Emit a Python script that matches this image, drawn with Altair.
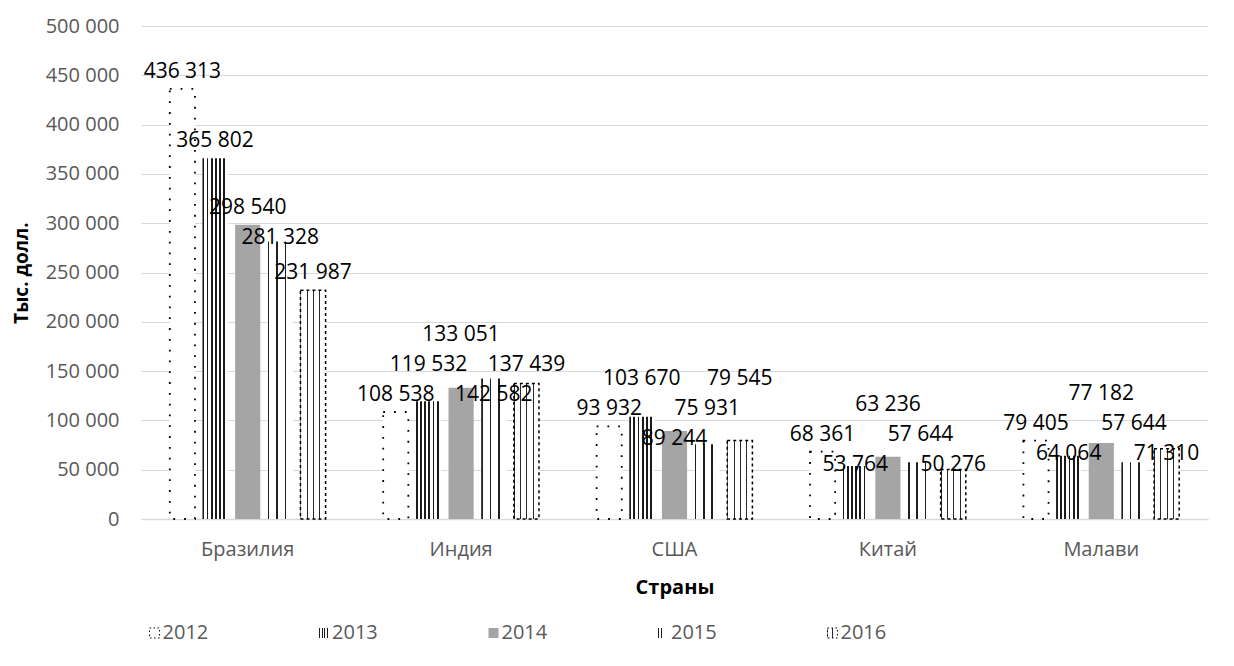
import altair as alt
import pandas as pd

countries = ["Бразилия", "Индия", "США", "Китай", "Малави"]
years = ["2012", "2013", "2014", "2015", "2016"]
v2012 = [436313, 108538, 93932, 68361, 79405]
v2013 = [365802, 119532, 103670, 53764, 64064]
v2014 = [298540, 133051, 89244, 63236, 77182]
v2015 = [281328, 142582, 75931, 57644, 57644]
v2016 = [231987, 137439, 79545, 50276, 71310]
y_ticks = [0, 50000, 100000, 150000, 200000, 250000, 300000, 350000, 400000, 450000, 500000]

FONT = "Open Sans"
PLOT_W = 1067
PLOT_H = 493
Y_MAX = 500000
LABEL_FS = 21
BAR_STEP = 32.5  # pixel distance between neighbouring bars in a group


def fmt(v):
    return f"{v:,d}".replace(",", " ")


def text_width(s, fs):
    w = 0.0
    for ch in s:
        w += 0.26 if ch == " " else 0.572
    return w * fs + 6


series = {"2012": v2012, "2013": v2013, "2014": v2014, "2015": v2015, "2016": v2016}

# simple collision avoidance for the value labels (pixel space, then back to data units)
units_per_px = Y_MAX / PLOT_H
line_h = LABEL_FS * 1.36 + 1
rows = []
for ci, c in enumerate(countries):
    placed = []  # (x, top, bottom, half-width)
    for yi, yr in enumerate(years):
        v = series[yr][ci]
        x = yi * BAR_STEP
        hw = text_width(fmt(v), LABEL_FS) / 2
        bar_top = PLOT_H - v / units_per_px
        y0 = bar_top - 3  # text box bottom

        def ok(b):
            t = b - line_h
            for (px, pt, pb, phw) in placed:
                if abs(px - x) < phw + hw and not (b <= pt or t >= pb):
                    return False
            return True

        cands = [y0]
        for (px, pt, pb, phw) in placed:
            cands.append(pt - 0.5)
            cands.append(pb + line_h + 0.5)
        cands = [b for b in cands if ok(b) and b <= PLOT_H - 2]
        cands.sort(key=lambda b: (abs(b - y0), b))
        b = cands[0] if cands else y0
        placed.append((x, b - line_h, b, hw))
        label_pos = (PLOT_H - b) * units_per_px
        rows.append({"country": c, "year": yr, "value": v, "label": fmt(v), "label_pos": label_pos})
df = pd.DataFrame(rows)
leg_df = pd.DataFrame({"year": years})


def stripes(n, dark, color_dark, color_light="#ffffff"):
    stops = []
    for i in range(n):
        a = i / n
        b = (i + dark) / n
        stops += [
            alt.GradientStop(offset=a, color=color_light),
            alt.GradientStop(offset=a, color=color_dark),
            alt.GradientStop(offset=b, color=color_dark),
            alt.GradientStop(offset=b, color=color_light),
        ]
    stops.append(alt.GradientStop(offset=1, color=color_light))
    return alt.LinearGradient(gradient="linear", stops=stops, x1=0, x2=1, y1=0, y2=0)


styles = {
    "2012": dict(fill="#ffffff", stroke="#000000", strokeWidth=1.8, strokeDash=[1.8, 9]),
    "2013": dict(fill=stripes(6, 0.42, "#1a1a1a")),
    "2014": dict(fill="#a5a5a5"),
    "2015": dict(fill=stripes(3, 0.2, "#1f1f1f")),
    "2016": dict(fill=stripes(4, 0.16, "#2a2a2a"), stroke="#000000", strokeWidth=1.5, strokeDash=[3, 3]),
}

x_enc = alt.X(
    "country:N",
    sort=countries,
    scale=alt.Scale(domain=countries, paddingInner=0.27, paddingOuter=0.135),
    axis=alt.Axis(
        title="Страны",
        labelAngle=0,
        labelColor="#595959",
        labelFontSize=20,
        labelFont=FONT,
        labelPadding=20,
        ticks=False,
        domainColor="#d9d9d9",
        domainWidth=1.5,
        titleFont=FONT,
        titleFontSize=20,
        titleFontWeight="bold",
        titleColor="#000000",
        titlePadding=18,
    ),
)
xo_enc = alt.XOffset(
    "year:N", sort=years, scale=alt.Scale(domain=years, paddingInner=0.23, paddingOuter=0)
)
y_axis = alt.Axis(
    values=y_ticks,
    labelExpr="replace(format(datum.value, ',d'), ',', ' ')",
    title="Тыс. долл.",
    labelColor="#595959",
    labelFontSize=20,
    labelFont=FONT,
    labelPadding=22,
    ticks=False,
    domain=False,
    grid=True,
    gridColor="#d9d9d9",
    gridWidth=1.2,
    titleFont=FONT,
    titleFontSize=19,
    titleFontWeight="bold",
    titleColor="#000000",
    titlePadding=14,
)
y_scale = alt.Scale(domain=[0, Y_MAX], nice=False)
y_enc = alt.Y("value:Q", scale=y_scale, axis=y_axis)

base = alt.Chart(df)
layers = []
for yr in years:
    layers.append(
        base.transform_filter(alt.datum.year == yr)
        .mark_bar(**styles[yr])
        .encode(x=x_enc, xOffset=xo_enc, y=y_enc)
    )

labels = base.mark_text(
    baseline="line-bottom", fontSize=LABEL_FS, font=FONT, color="#000000", lineHeight=LABEL_FS * 1.36
).encode(
    x=x_enc,
    xOffset=xo_enc,
    y=alt.Y("label_pos:Q", scale=y_scale, axis=y_axis),
    text="label:N",
)

main = alt.layer(*layers, labels).properties(width=PLOT_W, height=PLOT_H)

leg_x = alt.X("year:N", sort=years, axis=None, scale=alt.Scale(type="point", domain=years, padding=0.08))
leg_base = alt.Chart(leg_df)
leg_layers = []
for yr in years:
    st = dict(styles[yr])
    if "strokeDash" in st:
        st["strokeDash"] = [1.5, 2.5]
        st["strokeWidth"] = 1
    leg_layers.append(
        leg_base.transform_filter(alt.datum.year == yr)
        .mark_square(size=100, opacity=1, **st)
        .encode(x=leg_x, y=alt.value(10))
    )
leg_text = leg_base.mark_text(
    align="left", baseline="middle", dx=8, fontSize=20, font=FONT, color="#595959"
).encode(x=leg_x, y=alt.value(10), text="year:N")
legend = alt.layer(*leg_layers, leg_text).properties(width=705, height=20)

chart = (
    alt.vconcat(main, legend, spacing=26)
    .properties(padding={"left": 4, "top": 8, "right": 5, "bottom": 5})
    .configure_view(strokeWidth=0)
)

chart.save("out.html", embed_options={"renderer": "svg", "actions": False})
